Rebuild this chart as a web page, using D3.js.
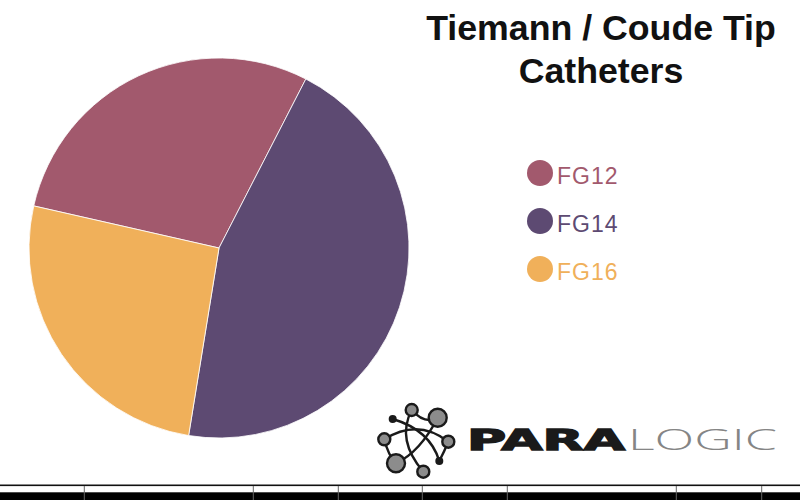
<!DOCTYPE html>
<html>
<head>
<meta charset="utf-8">
<script src="https://cdn.jsdelivr.net/npm/d3@7/dist/d3.min.js"></script>
<style>
  html, body { margin: 0; padding: 0; background: #fff; }
  svg { display: block; }
</style>
</head>
<body>
<svg id="chart" width="800" height="500"></svg>
<script>
// ---- data ----
const categories = ["FG12", "FG14", "FG16"];
const values = [29, 45, 26];
const colors = ["#a2596d", "#5d4a72", "#f0b05a"];
const titleLines = ["Tiemann / Coude Tip", "Catheters"];

const svg = d3.select("#chart");
const W = 800, H = 500;

// ---- pie ----
const cx = 219, cy = 248, R = 190;
const start = -77.2 * Math.PI / 180;
const pie = d3.pie().sort(null).value(d => d.v)
  .startAngle(start).endAngle(start + 2 * Math.PI);
const arc = d3.arc().innerRadius(0).outerRadius(R);
const color = d3.scaleOrdinal().domain(categories).range(colors);
const data = categories.map((c, i) => ({ c, v: values[i] }));

svg.append("g").attr("transform", `translate(${cx},${cy})`)
  .selectAll("path").data(pie(data)).join("path")
  .attr("d", arc)
  .attr("fill", d => color(d.data.c))
  .attr("stroke", "#fff")
  .attr("stroke-width", 1)
  .attr("stroke-opacity", 0.8);

// ---- title ----
svg.append("text")
  .attr("x", 601).attr("y", 39.5)
  .attr("text-anchor", "middle")
  .style("font-family", "'Liberation Sans', Arial, sans-serif")
  .style("font-weight", "bold")
  .style("font-size", "35.7px")
  .attr("fill", "#111")
  .selectAll("tspan").data(titleLines).join("tspan")
  .attr("x", 601).attr("dy", (d, i) => i === 0 ? 0 : 43)
  .text(d => d);

// ---- legend ----
const ly = d3.scalePoint().domain(categories).range([173, 269]);
const lg = svg.append("g").selectAll("g").data(categories).join("g")
  .attr("transform", d => `translate(540,${ly(d)})`);
lg.append("circle").attr("r", 13).attr("fill", d => color(d));
lg.append("text")
  .attr("x", 17).attr("y", 10.5)
  .style("font-family", "'Liberation Sans', Arial, sans-serif")
  .style("font-size", "23px")
  .style("letter-spacing", "1px")
  .attr("fill", d => color(d))
  .text(d => d);

// ---- logo ----
const logo = svg.append("g");
const links = logo.append("g").attr("fill", "none").attr("stroke", "#1a1a1a").attr("stroke-width", 2.4);
links.append("path").attr("d", "M411.7,410 Q396,440 423.3,471.7");
links.append("path").attr("d", "M384.3,439.3 Q418,418 448.3,441.7");
links.append("path").attr("d", "M392.7,419 Q430,430 439.3,461");
links.append("path").attr("d", "M437.7,417.7 Q420,452 396,463.3");
links.append("path").attr("d", "M411.7,410 Q425,425 437.7,417.7");
links.append("path").attr("d", "M384.3,439.3 Q388,455 396,463.3");
links.append("path").attr("d", "M448.3,441.7 Q444,452 439.3,461");
const nodes = [
  [411.7, 410, 6, "g"], [437.7, 417.7, 9, "g"], [392.7, 419, 4, "b"],
  [384.3, 439.3, 6, "g"], [448.3, 441.7, 6, "g"], [396, 463.3, 9, "g"],
  [439.3, 461, 4, "b"], [423.3, 471.7, 6, "g"]
];
logo.append("g").selectAll("circle").data(nodes).join("circle")
  .attr("cx", d => d[0]).attr("cy", d => d[1]).attr("r", d => d[2])
  .attr("fill", d => d[3] === "b" ? "#1a1a1a" : "#8c8c8c")
  .attr("stroke", d => d[3] === "b" ? "none" : "#1a1a1a")
  .attr("stroke-width", 2.4);
logo.append("text")
  .attr("x", 467).attr("y", 449.5)
  .attr("textLength", 158).attr("lengthAdjust", "spacingAndGlyphs")
  .style("font-family", "'DejaVu Sans', sans-serif")
  .style("font-weight", "bold")
  .style("font-size", "28px")
  .attr("fill", "#1a1a1a")
  .attr("stroke", "#1a1a1a").attr("stroke-width", 1.3)
  .text("PARA");
logo.append("text")
  .attr("x", 628).attr("y", 449.5)
  .attr("textLength", 149).attr("lengthAdjust", "spacingAndGlyphs")
  .style("font-family", "'Open Sans', 'DejaVu Sans', sans-serif")
  .style("font-weight", "300")
  .style("font-size", "28.5px")
  .attr("fill", "#858585")
  .text("LOGIC");

// ---- bottom bars ----
svg.append("rect").attr("x", 0).attr("y", 484.5).attr("width", W).attr("height", 1.6).attr("fill", "#111");
svg.append("rect").attr("x", 0).attr("y", 492.3).attr("width", W).attr("height", 8).attr("fill", "#000");
const seps = [84.3, 253.3, 338.3, 422.3, 507.3, 676.3, 761.7];
svg.append("g").selectAll("line").data(seps).join("line")
  .attr("x1", d => d).attr("x2", d => d)
  .attr("y1", 486).attr("y2", 500)
  .attr("stroke", "#666").attr("stroke-width", 1);
</script>
</body>
</html>
